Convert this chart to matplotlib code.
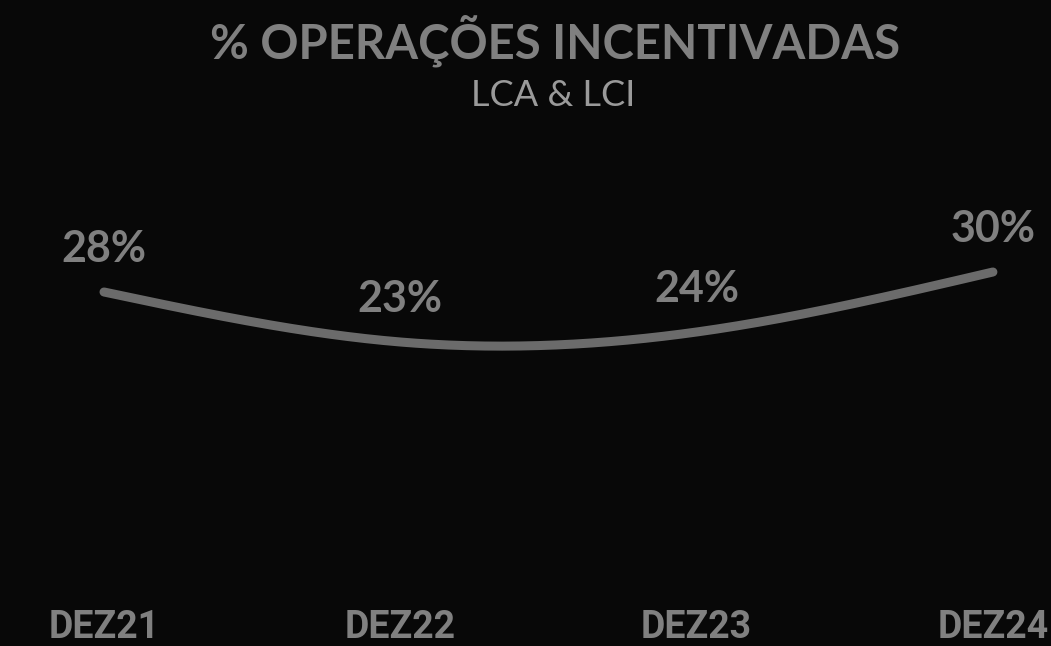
import numpy as np
import matplotlib
matplotlib.use("Agg")
import matplotlib.pyplot as plt

# Data
categories = ["DEZ21", "DEZ22", "DEZ23", "DEZ24"]
values = [28, 23, 24, 30]
labels = ["28%", "23%", "24%", "30%"]

bg = "#080808"
line_color = "#6b6b6b"
text_color = "#808080"


def natural_spline(xs, ys, n=300):
    """Natural cubic spline through the points."""
    xs = np.asarray(xs, float)
    ys = np.asarray(ys, float)
    k = len(xs)
    h = np.diff(xs)
    A = np.zeros((k, k))
    b = np.zeros(k)
    A[0, 0] = A[-1, -1] = 1
    for i in range(1, k - 1):
        A[i, i - 1] = h[i - 1]
        A[i, i] = 2 * (h[i - 1] + h[i])
        A[i, i + 1] = h[i]
        b[i] = 6 * ((ys[i + 1] - ys[i]) / h[i] - (ys[i] - ys[i - 1]) / h[i - 1])
    M = np.linalg.solve(A, b)
    xx = np.linspace(xs[0], xs[-1], n)
    yy = np.empty_like(xx)
    for j, x in enumerate(xx):
        i = min(np.searchsorted(xs, x, side="right") - 1, k - 2)
        t1 = xs[i + 1] - x
        t0 = x - xs[i]
        hi = h[i]
        yy[j] = (M[i] * t1 ** 3 / (6 * hi) + M[i + 1] * t0 ** 3 / (6 * hi)
                 + (ys[i] / hi - M[i] * hi / 6) * t1
                 + (ys[i + 1] / hi - M[i + 1] * hi / 6) * t0)
    return xx, yy


fig = plt.figure(figsize=(10.51, 6.46), dpi=100, facecolor=bg)
ax = fig.add_axes([0, 0, 1, 1])
ax.set_facecolor(bg)
ax.axis("off")

x = np.arange(len(categories))
xx, yy = natural_spline(x, values)
ax.plot(xx, yy, color=line_color, lw=6.5, solid_capstyle="round")

ax.set_xlim(-0.351, 3.196)
ax.set_ylim(-7.4, 57.2)

for xi, v, lab in zip(x, values, labels):
    ax.annotate(lab, (xi, v), xytext=(0, 43), textcoords="offset pixels",
                ha="center", va="center", fontsize=31, fontweight="bold",
                family="Lato", color=text_color)

for xi, cat in zip(x, categories):
    ax.text(xi, -5.6, cat, ha="center", va="center", fontsize=27,
            fontweight="bold", family="Roboto", color=text_color)

fig.text(0.528, 1 - 41 / 646, "% OPERAÇÕES INCENTIVADAS", ha="center",
         va="center", fontsize=34, fontweight="bold", family="Lato",
         color=text_color)
fig.text(0.526, 1 - 96 / 646, "LCA & LCI", ha="center", va="center",
         fontsize=26, family="Lato", color="#9a9a9a")

fig.savefig("out.png", dpi=100, facecolor=bg)
